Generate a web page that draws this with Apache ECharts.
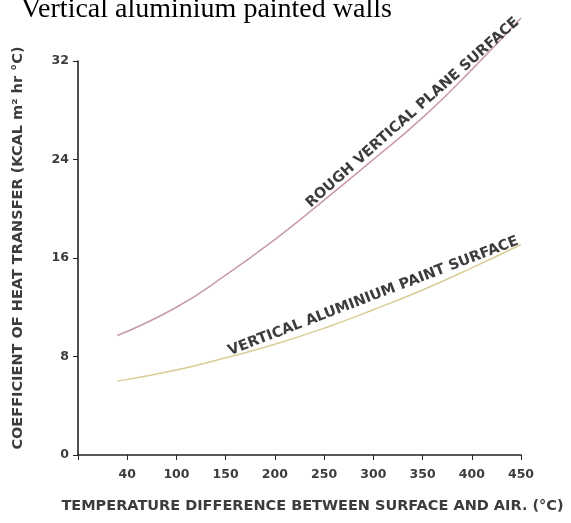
<!DOCTYPE html>
<html>
<head>
<meta charset="utf-8">
<script src="https://cdn.jsdelivr.net/npm/echarts@6/dist/echarts.min.js"></script>
<style>
  html, body { margin: 0; padding: 0; background: #fff; }
  #chart { width: 571px; height: 523px; }
</style>
</head>
<body>
<div id="chart"></div>
<script>
// x tick labels as printed on the chart (first tick sits at 50 but reads "40")
var xTickLabels = ["", "40", "100", "150", "200", "250", "300", "350", "400", "450"];

// rough vertical plane surface
var roughX = [40, 100, 150, 200, 250, 300, 350, 400, 450];
var roughY = [9.7, 12.0, 14.6, 17.5, 20.7, 24.0, 27.4, 31.3, 35.5];

// vertical aluminium paint surface
var alumX = [40, 100, 150, 200, 250, 300, 350, 400, 450];
var alumY = [6.0, 6.9, 7.9, 9.0, 10.3, 11.8, 13.4, 15.2, 17.1];

function pairs(xs, ys) {
  var out = [];
  for (var i = 0; i < xs.length; i++) out.push([xs[i], ys[i]]);
  return out;
}

var labelFont = {
  fontFamily: "DejaVu Sans",
  fontWeight: "bold",
  fontSize: 14.5,
  color: "#3c3c3c"
};

// invisible anchor with a rotated text label on top of a curve
function curveLabel(text, coord, angle) {
  return {
    symbol: "circle",
    symbolSize: 1,
    itemStyle: { color: "rgba(0,0,0,0)" },
    label: Object.assign({
      show: true,
      position: "inside",
      formatter: text,
      rotate: angle
    }, labelFont),
    data: [{ coord: coord }]
  };
}

var myChart = echarts.init(document.getElementById("chart"));
myChart.setOption({
  animation: false,
  title: {
    text: "Vertical aluminium painted walls",
    left: 16,
    top: -9,
    textStyle: {
      fontFamily: "Liberation Serif",
      fontWeight: "normal",
      fontSize: 28,
      color: "#000"
    }
  },
  grid: { left: 78, right: 50, top: 61, bottom: 68 },
  xAxis: {
    type: "value",
    min: 0,
    max: 450,
    interval: 50,
    splitLine: { show: false },
    axisLine: { lineStyle: { color: "#222", width: 1.6 } },
    axisTick: { length: 5, lineStyle: { color: "#222" } },
    axisLabel: {
      margin: 13,
      fontFamily: "DejaVu Sans",
      fontWeight: "bold",
      fontSize: 12.5,
      color: "#3c3c3c",
      formatter: function (v) {
        return xTickLabels[Math.round(v / 50)] || "";
      }
    },
    name: "TEMPERATURE DIFFERENCE BETWEEN SURFACE AND AIR. (°C)",
    nameLocation: "middle",
    nameGap: 44,
    nameTextStyle: Object.assign({ padding: [0, 0, 0, 26] }, labelFont)
  },
  yAxis: {
    type: "value",
    min: 0,
    max: 32,
    interval: 8,
    splitLine: { show: false },
    axisLine: { show: true, lineStyle: { color: "#222", width: 1.6 } },
    axisTick: { show: true, length: 5, lineStyle: { color: "#222" } },
    axisLabel: {
      margin: 9,
      fontFamily: "DejaVu Sans",
      fontWeight: "bold",
      fontSize: 12.5,
      color: "#3c3c3c"
    },
    name: "COEFFICIENT OF HEAT TRANSFER (KCAL m² hr °C)",
    nameLocation: "middle",
    nameGap: 52,
    nameTextStyle: Object.assign({ padding: [0, 0, 0, 20] }, labelFont)
  },
  series: [
    {
      name: "ROUGH VERTICAL PLANE SURFACE",
      type: "line",
      smooth: true,
      clip: false,
      symbol: "none",
      lineStyle: { color: "#c99aab", width: 1.5 },
      data: pairs(roughX, roughY),
      markPoint: curveLabel("ROUGH VERTICAL PLANE SURFACE", [340, 27.8], 41.5)
    },
    {
      name: "VERTICAL ALUMINIUM PAINT SURFACE",
      type: "line",
      smooth: true,
      clip: false,
      symbol: "none",
      lineStyle: { color: "#d9cc96", width: 1.5 },
      data: pairs(alumX, alumY),
      markPoint: curveLabel("VERTICAL ALUMINIUM PAINT SURFACE", [300, 12.9], 21)
    }
  ]
});
</script>
</body>
</html>
